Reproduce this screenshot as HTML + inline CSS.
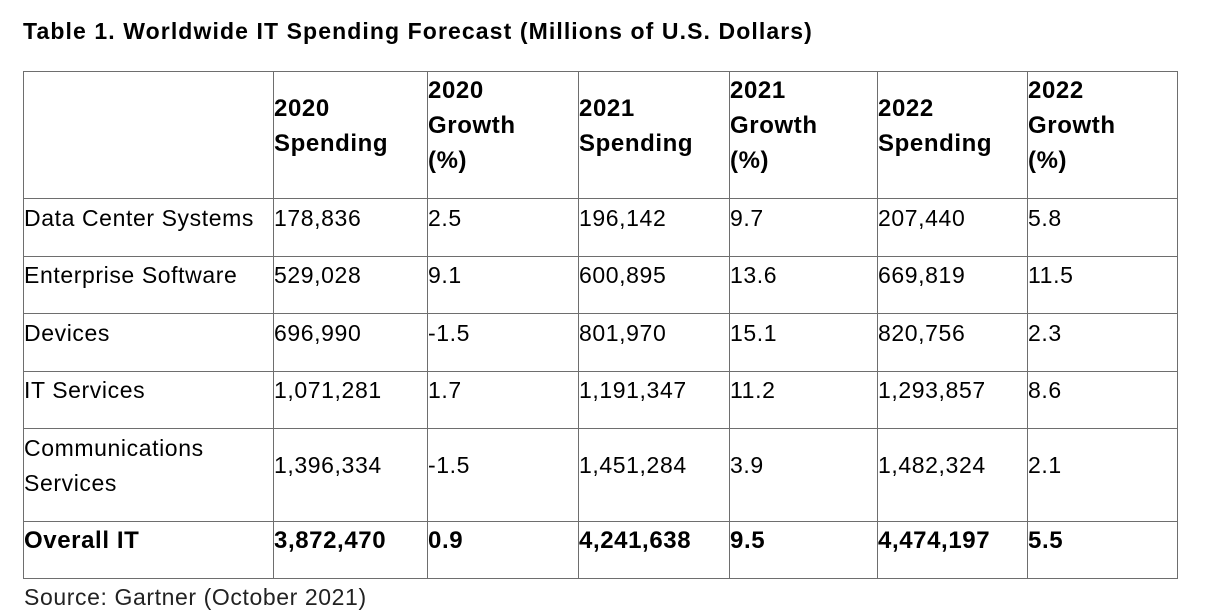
<!DOCTYPE html>
<html><head><meta charset="utf-8"><style>
body{margin:0;width:1207px;height:612px;background:#fff;position:relative;font-family:"Liberation Sans",sans-serif;color:#000;overflow:hidden}
.t{position:absolute;left:23px;top:18px;font-weight:bold;font-size:23px;letter-spacing:1.1px}
.h{position:absolute;background:#6e6e6e;height:1px}
.v{position:absolute;background:#6e6e6e;width:1px}
.c{position:absolute;font-size:23px;letter-spacing:0.6px;white-space:nowrap}
.b{font-weight:bold;font-size:24px;letter-spacing:0.6px;line-height:35px}
.src{position:absolute;left:24px;top:584px;font-size:23px;letter-spacing:0.6px;color:#222}
</style></head><body>
<div class="t">Table 1. Worldwide IT Spending Forecast (Millions of U.S. Dollars)</div>
<div id="tbl"></div>
<div class="src">Source: Gartner (October 2021)</div>
<script>
const cols=[23,273,427,578,729,877,1027,1177];
const rows=[71,198,256,313,371,428,521,578];
const headers=["","2020<br>Spending","2020<br>Growth<br>(%)","2021<br>Spending","2021<br>Growth<br>(%)","2022<br>Spending","2022<br>Growth<br>(%)"];
const categories=["Data Center Systems","Enterprise Software","Devices","IT Services","Communications<br>Services","Overall IT"];
const values=[
["178,836","2.5","196,142","9.7","207,440","5.8"],
["529,028","9.1","600,895","13.6","669,819","11.5"],
["696,990","-1.5","801,970","15.1","820,756","2.3"],
["1,071,281","1.7","1,191,347","11.2","1,293,857","8.6"],
["1,396,334","-1.5","1,451,284","3.9","1,482,324","2.1"],
["3,872,470","0.9","4,241,638","9.5","4,474,197","5.5"]];
const T=document.getElementById('tbl');
rows.forEach(y=>{const d=document.createElement('div');d.className='h';d.style.left=cols[0]+'px';d.style.top=y+'px';d.style.width=(cols[7]-cols[0]+1)+'px';

T.appendChild(d);});
cols.forEach(x=>{const d=document.createElement('div');d.className='v';d.style.left=x+'px';d.style.top=rows[0]+'px';d.style.height=(rows[7]-rows[0]+1)+'px';

T.appendChild(d);});
function cell(html,ci,ri,bold){const d=document.createElement('div');d.className='c'+(bold?' b':'');d.innerHTML=html;
d.style.left=(cols[ci]+1)+'px';T.appendChild(d);
const h=d.offsetHeight;const top=rows[ri],bot=rows[ri+1];d.style.top=(top+(bot-top-h)/2-9)+'px';return d;}
headers.forEach((h,i)=>{if(!h)return;const d=cell(h,i,0,true);

});
categories.forEach((c,r)=>{const last=r===categories.length-1;
const multi=c.includes('<br>');
const dd=cell(c,0,r+1,last);if(multi){dd.style.lineHeight='35px';const h=dd.offsetHeight;dd.style.top=(rows[r+1]+(rows[r+2]-rows[r+1]-h)/2-9)+'px';}


values[r].forEach((v,j)=>{const e=cell(v,j+1,r+1,last);

});});
</script>
</body></html>
